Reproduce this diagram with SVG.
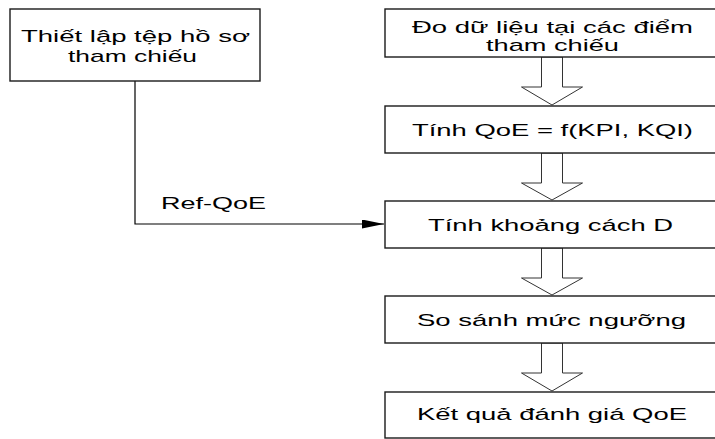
<svg xmlns="http://www.w3.org/2000/svg" width="715" height="439" viewBox="0 0 715 439">
<style>
.box{fill:#fff;stroke:#1a1a1a;stroke-width:1.4}
.blk{fill:#fff;stroke:#333;stroke-width:1}
.t{font-family:"Liberation Sans",Arial,sans-serif;font-size:17px;fill:#000}
.line{fill:none;stroke:#000;stroke-width:1.2}
</style>
<defs>
<marker id="ah" markerWidth="22" markerHeight="9" refX="22" refY="4.5" orient="auto" markerUnits="userSpaceOnUse">
<path d="M0,0 L22,4.5 L0,9 Z" fill="#000"/>
</marker>
</defs>
<rect width="715" height="439" fill="#fff"/>
<g id="connectors">
<path class="line" d="M135,81 V224 H384" marker-end="url(#ah)"/>
<polygon class="blk" points="541.5,57 541.5,87 521.5,87 552,105 582.5,87 562.5,87 562.5,57"/>
<polygon class="blk" points="541.5,153 541.5,183 521.5,183 552,200 582.5,183 562.5,183 562.5,153"/>
<polygon class="blk" points="541.5,248 541.5,278 521.5,278 552,295 582.5,278 562.5,278 562.5,248"/>
<polygon class="blk" points="541.5,343 541.5,373 521.5,373 552,391 582.5,373 562.5,373 562.5,343"/>
<text class="t" x="161" y="209" textLength="105" lengthAdjust="spacingAndGlyphs">Ref-QoE</text>
</g>
<g id="node-ref">
<rect class="box" x="10" y="9" width="250" height="72"/>
<text class="t" x="21" y="42" textLength="229" lengthAdjust="spacingAndGlyphs">Thiết lập tệp hồ sơ</text>
<text class="t" x="68" y="62" textLength="129" lengthAdjust="spacingAndGlyphs">tham chiếu</text>
</g>
<g id="node-measure">
<rect class="box" x="385" y="9" width="334" height="48"/>
<text class="t" x="412" y="33" textLength="281" lengthAdjust="spacingAndGlyphs">Đo dữ liệu tại các điểm</text>
<text class="t" x="486" y="51" textLength="133" lengthAdjust="spacingAndGlyphs">tham chiếu</text>
</g>
<g id="node-qoe">
<rect class="box" x="385" y="106" width="334" height="47"/>
<text class="t" x="412" y="136" textLength="281" lengthAdjust="spacingAndGlyphs">Tính QoE = f(KPI, KQI)</text>
</g>
<g id="node-distance">
<rect class="box" x="385" y="201" width="334" height="47"/>
<text class="t" x="428" y="231" textLength="245" lengthAdjust="spacingAndGlyphs">Tính khoảng cách D</text>
</g>
<g id="node-compare">
<rect class="box" x="385" y="296" width="334" height="47"/>
<text class="t" x="417" y="326" textLength="269" lengthAdjust="spacingAndGlyphs">So sánh mức ngưỡng</text>
</g>
<g id="node-result">
<rect class="box" x="385" y="392" width="334" height="46"/>
<text class="t" x="417" y="420" textLength="270" lengthAdjust="spacingAndGlyphs">Kết quả đánh giá QoE</text>
</g>
</svg>
